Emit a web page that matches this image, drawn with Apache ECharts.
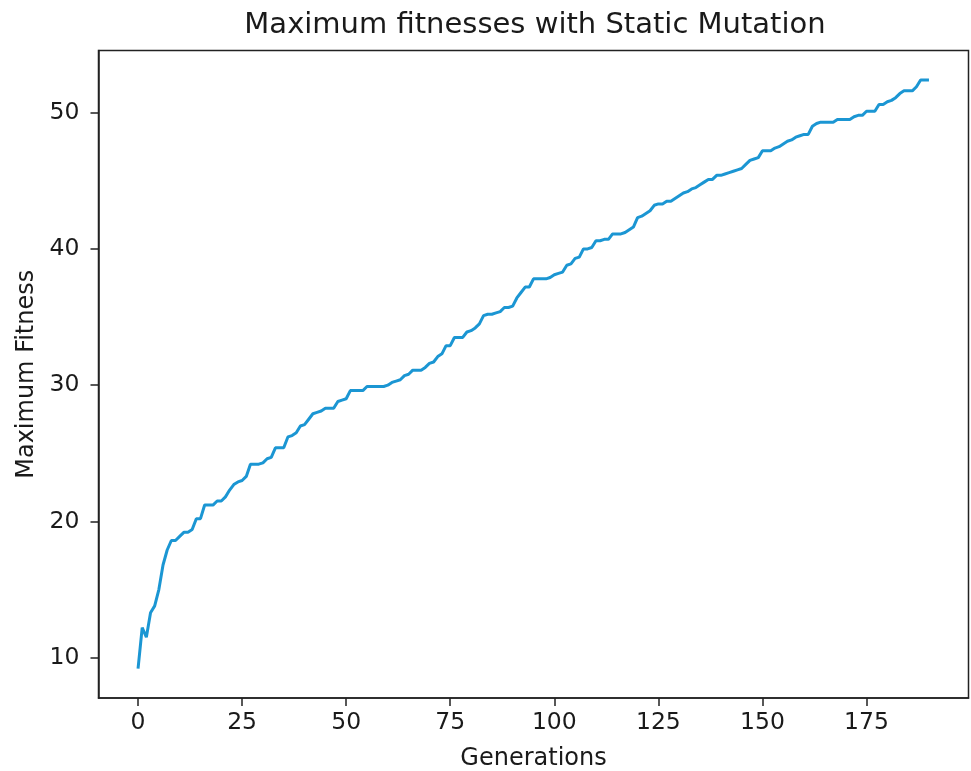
<!DOCTYPE html>
<html>
<head>
<meta charset="utf-8">
<script src="https://cdn.jsdelivr.net/npm/echarts@6/dist/echarts.min.js"></script>
<style>html,body{margin:0;padding:0;background:#fff;}#c{width:971px;height:771px;}</style>
</head>
<body>
<div id="c"></div>
<script>
const titleText = 'Maximum fitnesses with Static Mutation';
const xName = 'Generations';
const yName = 'Maximum Fitness';
const xTicks = [0, 25, 50, 75, 100, 125, 150, 175];
const yTicks = [10, 20, 30, 40, 50];
const maxFitness = [
  9.2, 12.2, 11.5, 13.3, 13.8, 15.0, 16.8, 17.9, 18.6, 18.6,
  18.9, 19.2, 19.2, 19.4, 20.2, 20.2, 21.2, 21.2, 21.2, 21.5,
  21.5, 21.8, 22.3, 22.7, 22.9, 23.0, 23.3, 24.2, 24.2, 24.2,
  24.3, 24.6, 24.7, 25.4, 25.4, 25.4, 26.2, 26.3, 26.5, 27.0,
  27.1, 27.5, 27.9, 28.0, 28.1, 28.3, 28.3, 28.3, 28.8, 28.9,
  29.0, 29.6, 29.6, 29.6, 29.6, 29.9, 29.9, 29.9, 29.9, 29.9,
  30.0, 30.2, 30.3, 30.4, 30.7, 30.8, 31.1, 31.1, 31.1, 31.3,
  31.6, 31.7, 32.1, 32.3, 32.9, 32.9, 33.5, 33.5, 33.5, 33.9,
  34.0, 34.2, 34.5, 35.1, 35.2, 35.2, 35.3, 35.4, 35.7, 35.7,
  35.8, 36.4, 36.8, 37.2, 37.2, 37.8, 37.8, 37.8, 37.8, 37.9,
  38.1, 38.2, 38.3, 38.8, 38.9, 39.3, 39.4, 40.0, 40.0, 40.1,
  40.6, 40.6, 40.7, 40.7, 41.1, 41.1, 41.1, 41.2, 41.4, 41.6,
  42.3, 42.4, 42.6, 42.8, 43.2, 43.3, 43.3, 43.5, 43.5, 43.7,
  43.9, 44.1, 44.2, 44.4, 44.5, 44.7, 44.9, 45.1, 45.1, 45.4,
  45.4, 45.5, 45.6, 45.7, 45.8, 45.9, 46.2, 46.5, 46.6, 46.7,
  47.2, 47.2, 47.2, 47.4, 47.5, 47.7, 47.9, 48.0, 48.2, 48.3,
  48.4, 48.4, 49.0, 49.2, 49.3, 49.3, 49.3, 49.3, 49.5, 49.5,
  49.5, 49.5, 49.7, 49.8, 49.8, 50.1, 50.1, 50.1, 50.6, 50.6,
  50.8, 50.9, 51.1, 51.4, 51.6, 51.6, 51.6, 51.9, 52.4, 52.4,
  52.4
];

const generations = maxFitness.map((_, i) => i);
const seriesData = generations.map((g, i) => [g, maxFitness[i]]);

const xMin = -9.5, xMax = 199.5;
const yLo = Math.min(...maxFitness), yHi = Math.max(...maxFitness);
const yPad = (yHi - yLo) * 0.05;

const font = 'DejaVu Sans';
const textColor = '#1a1a1a';
const spine = '#222';
const chart = echarts.init(document.getElementById('c'), null, {renderer: 'canvas'});
chart.setOption({
  backgroundColor: '#ffffff',
  animation: false,
  title: {
    text: titleText,
    left: 530, top: 6, textAlign: 'center',
    textStyle: {fontFamily: font, fontSize: 29, fontWeight: 'normal', color: textColor}
  },
  grid: {left: 98.5, right: 2.5, top: 50.5, bottom: 73, containLabel: false,
         outerBoundsMode: 'none',
         show: true, borderColor: spine, borderWidth: 1.5, backgroundColor: 'transparent'},
  xAxis: {
    type: 'value', min: xMin, max: xMax,
    name: xName, nameLocation: 'middle', nameGap: 49,
    nameTextStyle: {fontFamily: font, fontSize: 24, color: textColor},
    axisLine: {show: true, onZero: false, lineStyle: {color: spine, width: 1.5}},
    axisTick: {show: true, length: 8, customValues: xTicks, lineStyle: {color: spine, width: 1.5}},
    axisLabel: {customValues: xTicks, fontFamily: font, fontSize: 23.5, color: textColor, margin: 13},
    splitLine: {show: false}
  },
  yAxis: {
    type: 'value', min: yLo - yPad, max: yHi + yPad,
    name: yName, nameLocation: 'middle', nameGap: 60, nameRotate: 90,
    nameTextStyle: {fontFamily: font, fontSize: 24, color: textColor},
    axisLine: {show: true, onZero: false, lineStyle: {color: spine, width: 1.5}},
    axisTick: {show: true, length: 8, customValues: yTicks, lineStyle: {color: spine, width: 1.5}},
    axisLabel: {customValues: yTicks, fontFamily: font, fontSize: 23.5, color: textColor, margin: 19},
    splitLine: {show: false}
  },
  series: [{
    type: 'line',
    data: seriesData,
    showSymbol: false,
    symbol: 'none',
    lineStyle: {color: '#1b96d3', width: 3},
    clip: false
  }]
});
</script>
</body>
</html>
